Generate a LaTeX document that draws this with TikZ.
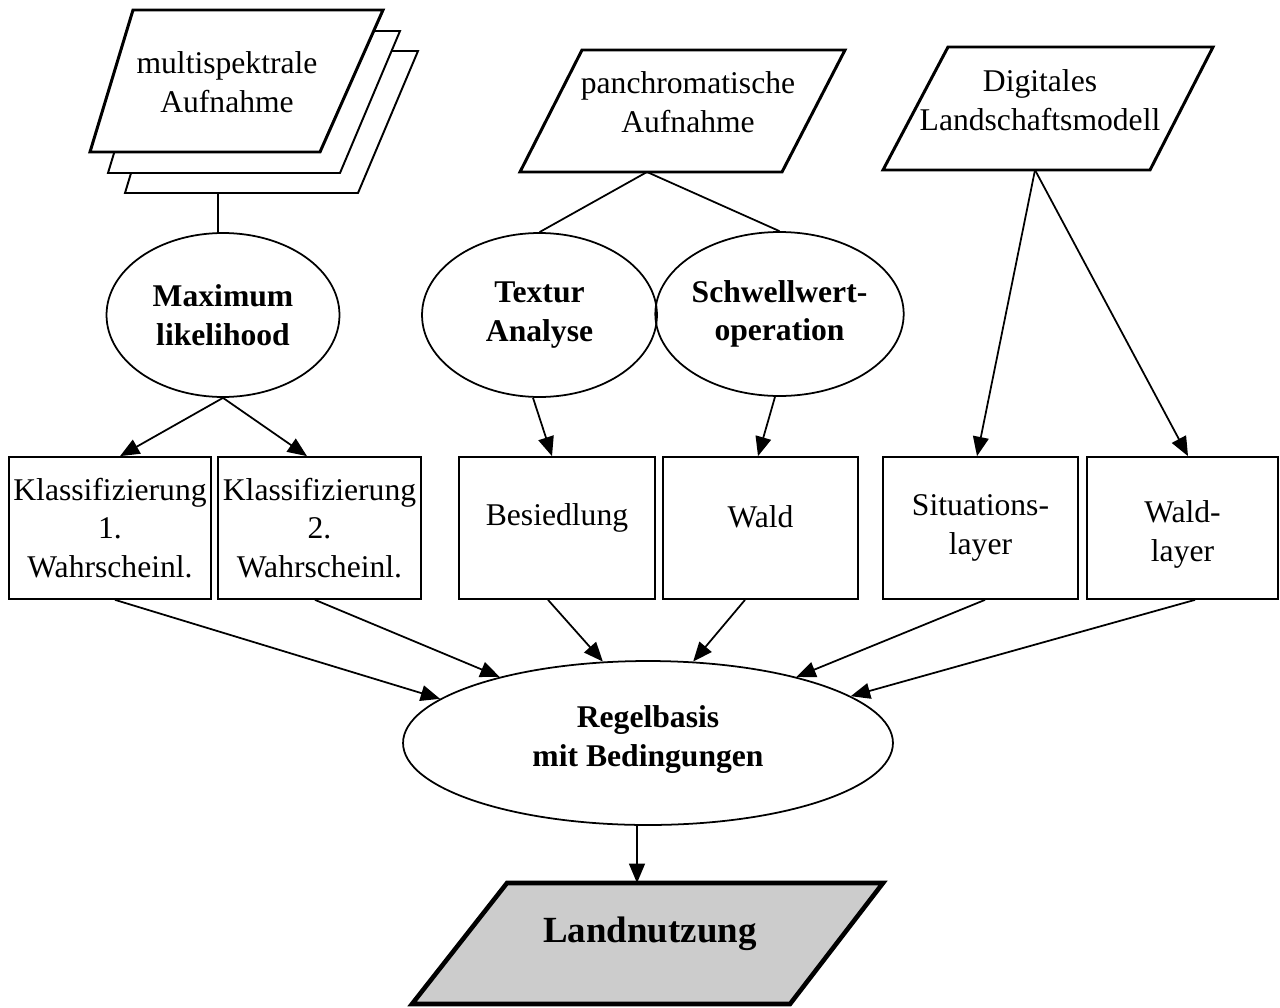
\documentclass[tikz,border=0pt]{standalone}
\usepackage{fontspec}
\setmainfont{Liberation Serif}
\usetikzlibrary{shapes.geometric,arrows.meta}
\begin{document}
\begin{tikzpicture}[x=0.02cm,y=-0.02cm,
  txt/.style={font=\fontsize{18}{22}\selectfont, align=center, inner sep=0pt},
  btxt/.style={font=\fontsize{18}{22}\selectfont\bfseries, align=center, inner sep=0pt},
  para/.style={draw, line width=1.7pt, line join=miter, fill=white},
  paraback/.style={draw, line width=1.1pt, fill=white},
  ell/.style={draw, ellipse, line width=1pt, inner sep=0pt, minimum height=3.28cm, font=\fontsize{18}{22}\selectfont\bfseries, align=center},
  box/.style={draw, rectangle, line width=1pt, inner sep=0pt, minimum height=2.84cm, font=\fontsize{18}{22}\selectfont, align=center},
  conn/.style={line width=1pt},
  arr/.style={line width=1pt, -{Triangle[length=11pt,width=9pt]}}
]
\useasboundingbox (0,0) rectangle (1280,1007);

% multispectral stack
\draw[paraback] (168,51) -- (418,51) -- (358,193) -- (125,193) -- cycle;
\draw[paraback] (151,31) -- (400,31) -- (340,173) -- (108,173) -- cycle;
\draw[para] (133,10) -- (383,10) -- (320,152) -- (90,152) -- cycle;
\node[txt] (mst) at (227,82) {multispektrale\\Aufnahme};
\coordinate (ms) at (218,193);

% panchromatic
\draw[para] (582,50) -- (845,50) -- (782,172) -- (520,172) -- cycle;
\node[txt] (pat) at (688,102) {panchromatische\\Aufnahme};
\coordinate (pa) at (647,172);

% DLM
\draw[para] (948,47) -- (1213,47) -- (1150,170) -- (883,170) -- cycle;
\node[txt] (dlt) at (1040,100) {Digitales\\Landschaftsmodell};
\coordinate (dl) at (1035,170);

% ellipses
\node[ell, minimum width=4.66cm] (ml) at (223,315) {Maximum\\likelihood};
\node[ell, minimum width=4.7cm] (tx) at (539.5,315) {Textur\\Analyse};
\node[ell, minimum width=4.7cm] (sw) at (779.5,314) {Schwellwert-\\operation};

% boxes
\node[box, minimum width=4.04cm] (b1) at (110,528) {Klassifizierung\\1.\\Wahrscheinl.};
\node[box, minimum width=4.06cm] (b2) at (319.5,528) {Klassifizierung\\2.\\Wahrscheinl.};
\node[box, minimum width=3.92cm] (b3) at (557,528) {Besiedlung\\[-7pt]\mbox{}};
\node[box, minimum width=3.9cm] (b4) at (760.5,528) {Wald\\[-9.5pt]\mbox{}};
\node[box, minimum width=3.9cm] (b5) at (980.5,528) {Situations-\\layer};
\node[box, minimum width=3.82cm] (b6) at (1182.5,528) {\rule{0pt}{20pt}Wald-\\layer};

% rule base
\node[ell, minimum width=9.8cm] (R) at (648,743) {Regelbasis\\mit Bedingungen\\[-14pt]\mbox{}};

% result
\draw[line width=2.6pt, line join=miter, fill=black!20] (507,883) -- (883,883) -- (790,1004) -- (412,1004) -- cycle;
\node[btxt, font=\fontsize{21}{25}\selectfont\bfseries] (lnt) at (650,934) {Landnutzung};
\coordinate (ln) at (637,883);

% connectors
\draw[conn] (ms) -- (ms |- ml.north);
\draw[conn] (pa) -- (tx.north);
\draw[conn] (pa) -- (sw.north);
\draw[arr] (ml.south) -- ([xshift=0.2cm]b1.north);
\draw[arr] (ml.south) -- ([xshift=-0.25cm]b2.north);
\draw[arr] ([xshift=-0.13cm]tx.south) -- ([xshift=-0.1cm]b3.north);
\draw[arr] ([xshift=-0.09cm]sw.south) -- ([xshift=-0.05cm]b4.north);
\draw[arr] (dl) -- ([xshift=-0.07cm]b5.north);
\draw[arr] (dl) -- ([xshift=0.11cm]b6.north);
\draw[arr] ([xshift=0.1cm]b1.south) -- (R.168.3);
\draw[arr] ([xshift=-0.09cm]b2.south) -- (R.156.9);
\draw[arr] ([xshift=-0.18cm]b3.south) -- (R.119.3);
\draw[arr] ([xshift=-0.31cm]b4.south) -- (R.61.5);
\draw[arr] ([xshift=0.09cm]b5.south) -- (R.24.6);
\draw[arr] ([xshift=0.25cm]b6.south) -- (R.13.5);
\draw[arr] (R.south -| ln) -- (ln);
\end{tikzpicture}
\end{document}
